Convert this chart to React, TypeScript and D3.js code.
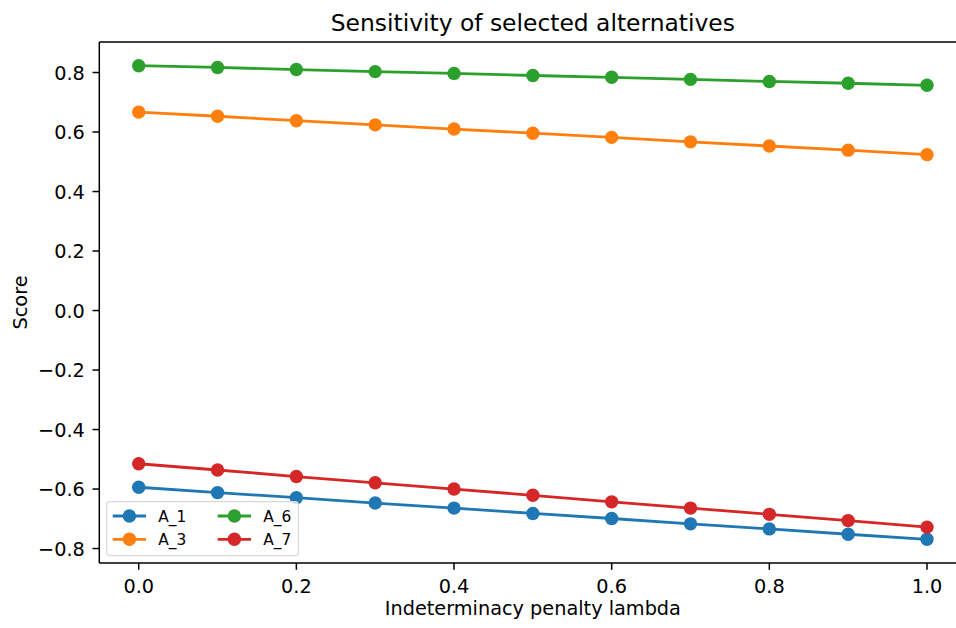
import React from 'react';
import * as d3 from 'd3';

// lambda values on the x axis
const lambdas = [0, 0.1, 0.2, 0.3, 0.4, 0.5, 0.6, 0.7, 0.8, 0.9, 1.0];

// scores
const a1 = [-0.594, -0.612, -0.629, -0.647, -0.664, -0.682, -0.699, -0.717, -0.734, -0.752, -0.769];
const a3 = [0.667, 0.653, 0.638, 0.624, 0.610, 0.596, 0.582, 0.567, 0.553, 0.539, 0.524];
const a6 = [0.823, 0.817, 0.810, 0.803, 0.797, 0.790, 0.784, 0.777, 0.770, 0.764, 0.757];
const a7 = [-0.515, -0.536, -0.558, -0.579, -0.600, -0.621, -0.643, -0.664, -0.685, -0.706, -0.728];

const seriesNames = ['A_1', 'A_3', 'A_6', 'A_7'];
const seriesValues = [a1, a3, a6, a7];
const colors = ['#1f77b4', '#ff7f0e', '#2ca02c', '#d62728'];

const xTicks = [0, 0.2, 0.4, 0.6, 0.8, 1.0];
const yTicks = [-0.8, -0.6, -0.4, -0.2, 0, 0.2, 0.4, 0.6, 0.8];

const App = () => {
  const width = 956;
  const height = 628;
  const font = 'DejaVu Sans, sans-serif';
  const tickSize = 19.3;

  // plot area
  const left = 99.3;
  const right = 966.4;
  const top = 42;
  const bottom = 563;

  const x = d3.scaleLinear().domain([-0.05, 1.05]).range([left, right]);
  const y = d3.scaleLinear().domain([-0.8486, 0.9026]).range([bottom, top]);

  const line = d3.line<number>()
    .x((d, i) => x(lambdas[i]))
    .y(d => y(d));

  const fmt = (v: number) => (v < 0 ? '\u2212' : '') + Math.abs(v).toFixed(1);

  // legend layout
  const lgX = 106.7;
  const lgY = 501.7;
  const lgW = 191.6;
  const lgH = 54;
  const colX = [112.7, 217.7];
  const rowY = [516, 539.3];

  return (
    <svg width={width} height={height} style={{ position: 'absolute', left: 0, top: 0 }} fontFamily={font}>
      <rect width={width} height={height} fill="#fff" />

      {/* series */}
      {seriesValues.map((vals, s) => (
        <g key={seriesNames[s]}>
          <path d={line(vals) || ''} fill="none" stroke={colors[s]} strokeWidth={2.8} />
          {vals.map((v, i) => (
            <circle key={i} cx={x(lambdas[i])} cy={y(v)} r={6.7} fill={colors[s]} />
          ))}
        </g>
      ))}

      {/* spines */}
      <line x1={left} x2={left} y1={top} y2={bottom} stroke="#000" strokeWidth={1.5} />
      <line x1={left} x2={right} y1={bottom} y2={bottom} stroke="#000" strokeWidth={1.5} />
      <line x1={left} x2={right} y1={top} y2={top} stroke="#000" strokeWidth={1.5} />
      <line x1={right} x2={right} y1={top} y2={bottom} stroke="#000" strokeWidth={1.5} />

      {/* x ticks */}
      {xTicks.map(t => (
        <g key={t} transform={`translate(${x(t)},${bottom})`}>
          <line y2={6.8} stroke="#000" strokeWidth={1.5} />
          <text y={30} textAnchor="middle" fontSize={tickSize} fill="#000">{t.toFixed(1)}</text>
        </g>
      ))}

      {/* y ticks */}
      {yTicks.map(t => (
        <g key={t} transform={`translate(${left},${y(t)})`}>
          <line x2={-6.8} stroke="#000" strokeWidth={1.5} />
          <text x={-14.5} y={7} textAnchor="end" fontSize={tickSize} fill="#000">{fmt(t)}</text>
        </g>
      ))}

      {/* labels */}
      <text x={(left + right) / 2} y={30.5} textAnchor="middle" fontSize={23.4} fill="#000">
        Sensitivity of selected alternatives
      </text>
      <text x={(left + right) / 2} y={615} textAnchor="middle" fontSize={tickSize} fill="#000">
        Indeterminacy penalty lambda
      </text>
      <text transform={`translate(26.5,${(top + bottom) / 2}) rotate(-90)`} textAnchor="middle" fontSize={tickSize} fill="#000">
        Score
      </text>

      {/* legend */}
      <rect x={lgX} y={lgY} width={lgW} height={lgH} rx={3} fill="#fff" fillOpacity={0.8} stroke="#d9d9d9" strokeWidth={1.2} />
      {seriesNames.map((name, s) => {
        const col = Math.floor(s / 2);
        const row = s % 2;
        const hx = colX[col];
        const hy = rowY[row];
        return (
          <g key={name}>
            <line x1={hx} x2={hx + 33.3} y1={hy} y2={hy} stroke={colors[s]} strokeWidth={2.8} />
            <circle cx={hx + 16.7} cy={hy} r={6.7} fill={colors[s]} />
            <text x={hx + 45.6} y={hy + 5.5} fontSize={15.4} fill="#000">{name}</text>
          </g>
        );
      })}
    </svg>
  );
};

export default App;
